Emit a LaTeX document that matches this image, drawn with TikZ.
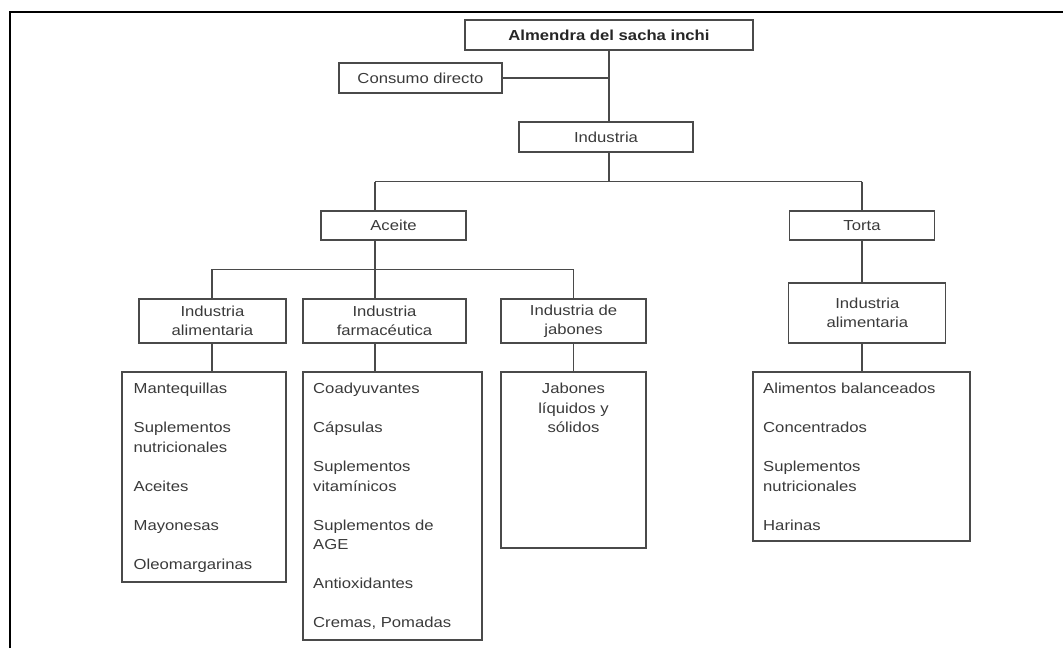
\documentclass[tikz,border=0pt]{standalone}
\usepackage{fontspec}
\setmainfont{Liberation Sans}[FakeStretch=1.15]
\definecolor{txt}{HTML}{3A3A3A}
\definecolor{ln}{HTML}{4A4A4A}
\newcommand\lstcol[1]{\begin{tabular}[t]{@{}l@{}}#1\end{tabular}}
\newcommand\lstctr[1]{\begin{tabular}[t]{@{}c@{}}#1\end{tabular}}
\begin{document}
\begin{tikzpicture}[x=1pt,y=-1pt,
  every node/.style={font=\fontsize{14.5}{19.5}\selectfont, text=txt},
  box/.style={draw=ln, line width=1.2pt, inner sep=0pt, align=center},
  conn/.style={draw=ln, line width=1.2pt},
  lsttext/.style={inner sep=0pt, anchor=base west},
]
\useasboundingbox (0,0) rectangle (1063,648);
\draw[line width=2pt, black] (9.5,648) -- (9.5,12) -- (1063,12);

\node[box, minimum width=288pt, minimum height=30pt, font=\fontsize{14.5}{19.5}\selectfont\bfseries, text=black!85] (top) at (609,35) {Almendra del sacha inchi};
\node[box, minimum width=163pt, minimum height=30pt] (cons) at (420.5,78) {Consumo directo};
\node[box, minimum width=174pt, minimum height=30pt] (ind) at (606,137) {Industria};
\node[box, minimum width=145pt, minimum height=29pt] (aceite) at (393.5,225.5) {Aceite};
\node[box, minimum width=145pt, minimum height=29pt] (torta) at (862,225.5) {Torta};
\node[box, minimum width=147pt, minimum height=44pt] (ialim) at (212.5,321) {Industria\\alimentaria};
\node[box, minimum width=163pt, minimum height=44pt] (ifarm) at (384.5,321) {Industria\\farmacéutica};
\node[box, minimum width=145pt, minimum height=44pt] (ijab) at (573.5,321) {Industria de\\jabones};
\node[box, minimum width=157pt, minimum height=60pt] (ialim2) at (867.3,313) {Industria\\alimentaria};

\node[box, minimum width=164pt, minimum height=210pt] (lmant) at (204,477) {};
\node[box, minimum width=179pt, minimum height=268pt] (lfarm) at (392.5,506) {};
\node[box, minimum width=145pt, minimum height=176pt] (ljab) at (573.5,460) {};
\node[box, minimum width=217pt, minimum height=169pt] (lalim) at (861.5,456.5) {};

\node[lsttext] (tmant) at (133.5,393.5) {\lstcol{Mantequillas\\ \\ Suplementos\\ nutricionales\\ \\ Aceites\\ \\ Mayonesas\\ \\ Oleomargarinas}};
\node[lsttext] (tfarm) at (313,393.5) {\lstcol{Coadyuvantes\\ \\ Cápsulas\\ \\ Suplementos\\ vitamínicos\\ \\ Suplementos de\\ AGE\\ \\ Antioxidantes\\ \\ Cremas, Pomadas}};
\node[inner sep=0pt, anchor=base] (tjab) at (573.5,393.5) {\lstctr{Jabones\\ líquidos y\\ sólidos}};
\node[lsttext] (talim) at (763,393.5) {\lstcol{Alimentos balanceados\\ \\ Concentrados\\ \\ Suplementos\\ nutricionales\\ \\ Harinas}};

\coordinate (j1) at (609,181.7);
\coordinate (jA) at (375,181.7);
\coordinate (jT) at (862,181.7);
\coordinate (jAL) at (212,269.3);
\coordinate (jAM) at (375,269.3);
\coordinate (jAR) at (573.5,269.3);

\draw[conn] (top.south) -- (top.south |- ind.north);
\draw[conn] (cons.east) -- (cons.east -| top.south);
\draw[conn] (ind.south -| j1) -- (j1);
\draw[conn] (jA) -- (jT);
\draw[conn] (jA) -- (jA |- aceite.north);
\draw[conn] (jT) -- (jT |- torta.north);
\draw[conn] (aceite.south -| jAM) -- (jAM);
\draw[conn] (jAL) -- (jAR);
\draw[conn] (jAL) -- (jAL |- ialim.north);
\draw[conn] (jAM) -- (jAM |- ifarm.north);
\draw[conn] (jAR) -- (jAR |- ijab.north);
\draw[conn] (ialim.south -| jAL) -- (jAL |- lmant.north);
\draw[conn] (ifarm.south -| jAM) -- (jAM |- lfarm.north);
\draw[conn] (ijab.south -| jAR) -- (jAR |- ljab.north);
\draw[conn] (torta.south -| jT) -- (jT |- ialim2.north);
\draw[conn] (ialim2.south -| jT) -- (jT |- lalim.north);
\end{tikzpicture}
\end{document}
